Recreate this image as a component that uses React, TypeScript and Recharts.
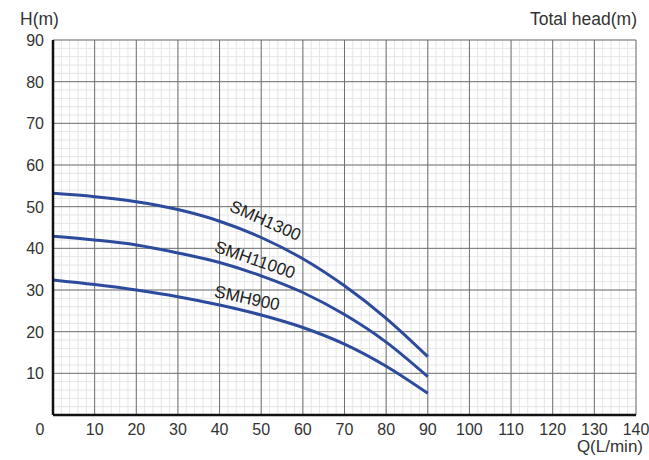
import React from "react";
import {
  LineChart,
  Line,
  XAxis,
  YAxis,
  CartesianGrid,
  ReferenceDot,
} from "recharts";

const flow = [0, 10, 20, 30, 40, 50, 60, 70, 80, 90];
const smh1300 = [53.2, 52.4, 51.2, 49.3, 46.5, 42.6, 37.5, 31.0, 23.2, 14.0];
const smh11000 = [42.9, 42.0, 40.8, 38.9, 36.6, 33.4, 29.4, 24.1, 17.5, 9.2];
const smh900 = [32.4, 31.3, 30.0, 28.4, 26.4, 24.0, 21.0, 17.0, 11.7, 5.2];

const xTicks = [0, 10, 20, 30, 40, 50, 60, 70, 80, 90, 100, 110, 120, 130, 140];
const yTicks = [10, 20, 30, 40, 50, 60, 70, 80, 90];
const xMinor = Array.from({ length: 71 }, (_, i) => i * 2);
const yMinor = Array.from({ length: 46 }, (_, i) => i * 2);

// label name, anchor point (data units), rotation
const curveLabels = [
  { name: "SMH1300", q: 51, h: 46.6, angle: 24 },
  { name: "SMH11000", q: 48.5, h: 37.2, angle: 19 },
  { name: "SMH900", q: 46.6, h: 28.0, angle: 12 },
];

const data = flow.map((q, i) => ({
  q,
  smh1300: smh1300[i],
  smh11000: smh11000[i],
  smh900: smh900[i],
}));

const FONT = "'Liberation Sans', Arial, sans-serif";
const LINE_COLOR = "#2d4b9c";

const XTick = (props: any) => {
  const { x, y, payload } = props;
  const dx = payload.value === 0 ? -13 : 0;
  return (
    <text x={x + dx} y={y + 12} textAnchor="middle" fontSize={16} fill="#333" fontFamily={FONT}>
      {payload.value}
    </text>
  );
};

const YTick = (props: any) => {
  const { x, y, payload } = props;
  return (
    <text x={x - 1} y={y + 6} textAnchor="end" fontSize={16} fill="#333" fontFamily={FONT}>
      {payload.value}
    </text>
  );
};

export default function App() {
  return (
    <div style={{ position: "fixed", left: 0, top: 0, width: 649, height: 460, background: "#fff" }}>
      <LineChart
        width={649}
        height={460}
        data={data}
        margin={{ top: 40, right: 13, left: 8, bottom: 15 }}
      >
        <CartesianGrid
          stroke="#e5e5e5"
          strokeWidth={1}
          horizontalValues={yMinor}
          verticalValues={xMinor}
        />
        <CartesianGrid
          stroke="#707070"
          strokeWidth={1}
          horizontalValues={yTicks}
          verticalValues={xTicks}
        />
        <XAxis
          dataKey="q"
          type="number"
          domain={[0, 140]}
          ticks={xTicks}
          interval={0}
          height={30}
          tickLine={false}
          axisLine={{ stroke: "#111", strokeWidth: 2.5 }}
          tick={<XTick />}
        />
        <XAxis
          xAxisId="top"
          orientation="top"
          dataKey="q"
          type="number"
          domain={[0, 140]}
          height={0}
          tick={false}
          tickLine={false}
          axisLine={{ stroke: "#111", strokeWidth: 2.5 }}
        />
        <YAxis
          type="number"
          domain={[0, 90]}
          ticks={yTicks}
          interval={0}
          width={45}
          tickLine={false}
          axisLine={{ stroke: "#111", strokeWidth: 2.5 }}
          tick={<YTick />}
        />
        <YAxis
          yAxisId="right"
          orientation="right"
          type="number"
          domain={[0, 90]}
          width={0}
          tick={false}
          tickLine={false}
          axisLine={{ stroke: "#111", strokeWidth: 2.5 }}
        />
        <Line
          type="monotone"
          dataKey="smh1300"
          stroke={LINE_COLOR}
          strokeWidth={3}
          dot={false}
          isAnimationActive={false}
        />
        <Line
          type="monotone"
          dataKey="smh11000"
          stroke={LINE_COLOR}
          strokeWidth={3}
          dot={false}
          isAnimationActive={false}
        />
        <Line
          type="monotone"
          dataKey="smh900"
          stroke={LINE_COLOR}
          strokeWidth={3}
          dot={false}
          isAnimationActive={false}
        />
        {curveLabels.map((c) => (
          <ReferenceDot
            key={c.name}
            x={c.q}
            y={c.h}
            r={0}
            shape={(p: any) => (
              <text
                x={p.cx}
                y={p.cy}
                textAnchor="middle"
                dominantBaseline="central"
                fontSize={17}
                fill="#222"
                fontFamily={FONT}
                transform={`rotate(${c.angle} ${p.cx} ${p.cy})`}
              >
                {c.name}
              </text>
            )}
          />
        ))}
      </LineChart>
      <div style={{ position: "absolute", left: 20, top: 9, fontSize: 17.5, color: "#333", fontFamily: FONT }}>
        H(m)
      </div>
      <div style={{ position: "absolute", right: 12, top: 9, fontSize: 17.5, color: "#333", fontFamily: FONT }}>
        Total head(m)
      </div>
      <div style={{ position: "absolute", right: 6, top: 437, fontSize: 17, color: "#333", fontFamily: FONT }}>
        Q(L/min)
      </div>
    </div>
  );
}
